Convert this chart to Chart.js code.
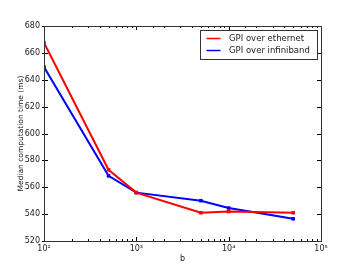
<!DOCTYPE html>
<html>
<head>
<meta charset="utf-8">
<script src="https://cdn.jsdelivr.net/npm/chart.js@4.4.0/dist/chart.umd.min.js"></script>
<style>
  html, body { margin: 0; padding: 0; background: #fff; }
  #wrap { width: 357px; height: 268px; }
</style>
</head>
<body>
<div id="wrap"><canvas id="grafica" width="357" height="268"></canvas></div>
<script>
const bValues = [100, 500, 1000, 5000, 10000, 50000];
const ethernet = [667.5, 573, 556, 541, 542, 541];
const infiniband = [649.5, 568.5, 556, 550, 544.5, 536.5];
const yTicks = [520, 540, 560, 580, 600, 620, 640, 660, 680];
const xMajor = { 100: '10²', 1000: '10³', 10000: '10⁴', 100000: '10⁵' };

const FONT = 'DejaVu Sans';

function isPow10(v) {
    const l = Math.log10(v);
    return Math.abs(l - Math.round(l)) < 1e-9;
}

// marcas de los ejes hacia dentro, caja y leyenda como en matplotlib
const estiloMpl = {
    id: 'estiloMpl',
    afterDatasetsDraw(chart) {
        const { ctx, chartArea: a, scales } = chart;
        ctx.save();
        ctx.strokeStyle = '#000';
        ctx.lineWidth = 1;
        ctx.beginPath();
        scales.x.ticks.forEach(t => {
            const x = Math.round(scales.x.getPixelForValue(t.value)) + 0.5;
            const len = isPow10(t.value) ? 4 : 2;
            ctx.moveTo(x, a.bottom); ctx.lineTo(x, a.bottom - len);
            ctx.moveTo(x, a.top); ctx.lineTo(x, a.top + len);
        });
        yTicks.forEach(v => {
            const y = Math.round(scales.y.getPixelForValue(v)) + 0.5;
            ctx.moveTo(a.left - 2, y); ctx.lineTo(a.left + 4, y);
            ctx.moveTo(a.right, y); ctx.lineTo(a.right - 4, y);
        });
        ctx.stroke();
        ctx.strokeStyle = '#333';
        ctx.strokeRect(Math.round(a.left) + 0.5, Math.round(a.top) + 0.5,
            Math.round(a.right - a.left), Math.round(a.bottom - a.top));

        // leyenda
        const lx = 200.5, ly = 30.5, lw = 117, lh = 29;
        ctx.fillStyle = '#fff';
        ctx.fillRect(lx, ly, lw, lh);
        ctx.strokeStyle = '#333';
        ctx.lineWidth = 1;
        ctx.strokeRect(lx, ly, lw, lh);
        ctx.font = '8.5px ' + FONT;
        ctx.textBaseline = 'middle';
        chart.data.datasets.forEach((ds, i) => {
            const y = ly + 8 + i * 12;
            ctx.strokeStyle = ds.borderColor;
            ctx.lineWidth = 1.5;
            ctx.beginPath();
            ctx.moveTo(lx + 6, y); ctx.lineTo(lx + 20, y);
            ctx.stroke();
            ctx.fillStyle = '#222';
            ctx.fillText(ds.label, lx + 28.5, y);
        });
        ctx.restore();
    }
};

const ctx = document.getElementById('grafica').getContext('2d');
new Chart(ctx, {
    type: 'line',
    data: {
        labels: bValues,
        datasets: [{
            label: 'GPI over ethernet',
            data: bValues.map((b, i) => ({ x: b, y: ethernet[i] })),
            borderColor: '#ff0000',
            backgroundColor: '#ff0000',
            borderWidth: 2,
            pointRadius: 2.5,
            pointStyle: 'rect',
            pointBorderWidth: 0,
            tension: 0
        }, {
            label: 'GPI over infiniband',
            data: bValues.map((b, i) => ({ x: b, y: infiniband[i] })),
            borderColor: '#0000ff',
            backgroundColor: '#0000ff',
            borderWidth: 2,
            pointRadius: 2.5,
            pointStyle: 'rect',
            pointBorderWidth: 0,
            tension: 0
        }]
    },
    options: {
        responsive: false,
        animation: false,
        devicePixelRatio: 1,
        layout: { padding: { top: 26, right: 36, left: 15, bottom: 0 } },
        plugins: { legend: { display: false }, tooltip: { enabled: false } },
        scales: {
            x: {
                type: 'logarithmic',
                min: 100,
                max: 100000,
                grid: { display: false, drawTicks: false },
                border: { display: false },
                afterFit: s => { s.height = 27; },
                ticks: {
                    autoSkip: false,
                    maxRotation: 0,
                    padding: 3,
                    color: '#222',
                    font: { family: FONT, size: 8 },
                    callback: v => xMajor[v] || ''
                },
                title: {
                    display: true,
                    text: 'b',
                    color: '#222',
                    font: { family: FONT, size: 8 },
                    padding: { top: 0, bottom: 4 }
                }
            },
            y: {
                min: 520,
                max: 680,
                grid: { display: false, drawTicks: false },
                border: { display: false },
                afterFit: s => { s.width = 29; },
                afterBuildTicks: s => { s.ticks = yTicks.map(v => ({ value: v })); },
                ticks: {
                    padding: 4,
                    color: '#222',
                    font: { family: FONT, size: 8 }
                },
                title: {
                    display: true,
                    text: 'Median computation time (ms)',
                    color: '#222',
                    font: { family: FONT, size: 7.5 },
                    padding: { top: 2, bottom: 2 }
                }
            }
        }
    },
    plugins: [estiloMpl]
});
</script>
</body>
</html>
